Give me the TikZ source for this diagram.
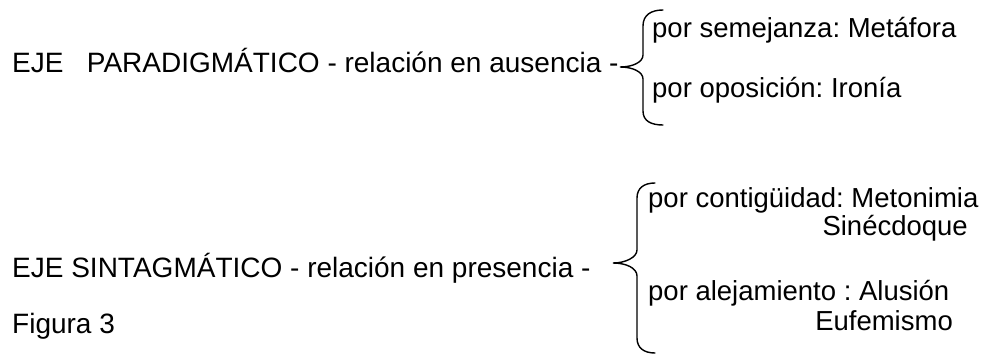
\documentclass[tikz,border=0pt]{standalone}
\usepackage{fontspec}
\setmainfont{Liberation Sans}
\frenchspacing
\begin{document}
\begin{tikzpicture}[x=1pt, y=-1pt,
    texto/.style={anchor=base west, inner sep=0pt, font=\fontsize{28}{33}\selectfont},
    rama/.style={texto, font=\fontsize{27.5}{33}\selectfont},
    llave/.style={line width=1.4pt, line cap=round}]
  \useasboundingbox (0,0) rectangle (990,356);

  % eje paradigmatico
  \node[texto] (paradig) at (12,72) {EJE\ \ \ PARADIGMÁTICO - relación en ausencia -};
  \node[rama] (semejanza) at (652,37) {por semejanza: Metáfora};
  \node[rama] (oposicion) at (652,97) {por oposición: Ironía};
  \coordinate (punta1) at (620,67);
  \draw[llave] (663,10) .. controls (651,10) and (643,15) .. (643,26) -- (643,55)
    .. controls (643,62) and (633,67) .. (punta1)
    .. controls (633,67) and (643,72) .. (643,79) -- (643,111)
    .. controls (643,121) and (651,125) .. (663,125);

  % eje sintagmatico
  \node[texto] (sintag) at (12,277) {EJE SINTAGMÁTICO - relación en presencia -};
  \node[texto] (figura) at (12,333) {Figura 3};
  \node[rama] (contig) at (648,207) {por contigüidad: Metonimia};
  \node[rama, anchor=base east] (sinec) at (968,235) {Sinécdoque};
  \node[rama] (alejam) at (648,300) {por alejamiento : Alusión};
  \node[rama, anchor=base east] (eufem) at (953,330) {Eufemismo};
  \coordinate (punta2) at (613,263);
  \draw[llave] (655,183) .. controls (644,183) and (637,188) .. (637,198) -- (637,250)
    .. controls (637,257) and (626,263) .. (punta2)
    .. controls (626,263) and (637,268) .. (637,276) -- (637,338)
    .. controls (637,348) and (644,353) .. (655,353);
\end{tikzpicture}
\end{document}
